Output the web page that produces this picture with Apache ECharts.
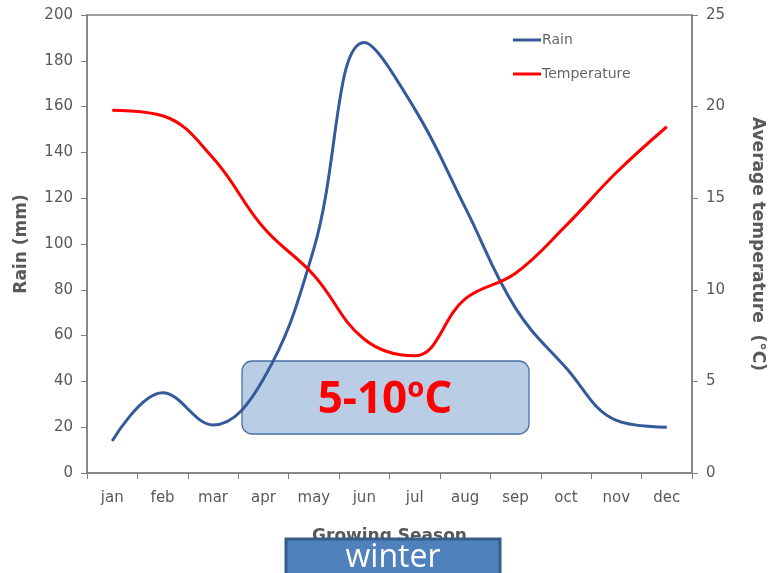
<!DOCTYPE html>
<html>
<head>
<meta charset="utf-8">
<script src="https://cdn.jsdelivr.net/npm/echarts@6/dist/echarts.min.js"></script>
<style>html,body{margin:0;padding:0;background:#fff;overflow:hidden;}#c{width:774px;height:573px;}</style>
</head>
<body>
<div id="c"></div>
<script>
var months = ['jan','feb','mar','apr','may','jun','jul','aug','sep','oct','nov','dec'];
var rain = [14, 35, 21, 41, 98, 188, 159, 116, 72, 46, 23, 20];
var temperature = [19.8, 19.5, 17.2, 13.4, 10.8, 7.3, 6.4, 9.5, 10.9, 13.5, 16.4, 18.9];
var rainTicks = {min: 0, max: 200, interval: 20};
var tempTicks = {min: 0, max: 25, interval: 5};

var chart = echarts.init(document.getElementById('c'));
var labelColor = '#595959';
var axisColor = '#808080';
chart.setOption({
  animation: false,
  backgroundColor: '#fff',
  grid: {left: 87, right: 78, top: 15, bottom: 100, show: true, borderColor: axisColor, borderWidth: 1.5, backgroundColor: 'transparent'},
  legend: {
    orient: 'vertical', left: 508, top: 28, itemGap: 20,
    itemWidth: 28, itemHeight: 3, itemStyle: {borderWidth: 0},
    icon: 'rect',
    textStyle: {color: '#666', fontFamily: 'DejaVu Sans', fontSize: 14, padding: [0,0,0,-4]},
    data: ['Rain', 'Temperature']
  },
  xAxis: {
    type: 'category', data: months, boundaryGap: true,
    name: 'Growing Season', nameLocation: 'middle', nameGap: 55,
    nameTextStyle: {color: labelColor, fontWeight: 'bold', fontSize: 17, fontFamily: 'DejaVu Sans'},
    axisLine: {lineStyle: {color: axisColor, width: 1.5}},
    axisTick: {show: true, length: 6, alignWithLabel: false, lineStyle: {color: axisColor}},
    axisLabel: {color: labelColor, fontSize: 15, fontFamily: 'DejaVu Sans', margin: 18},
    splitLine: {show: false}
  },
  yAxis: [{
    type: 'value', min: rainTicks.min, max: rainTicks.max, interval: rainTicks.interval,
    name: 'Rain (mm)', nameLocation: 'middle', nameGap: 57, nameRotate: 90,
    nameTextStyle: {color: labelColor, fontWeight: 'bold', fontSize: 17, fontFamily: 'DejaVu Sans'},
    axisLine: {show: true, lineStyle: {color: axisColor, width: 1.5}},
    axisTick: {show: true, length: 6, lineStyle: {color: axisColor}},
    axisLabel: {color: labelColor, fontSize: 15, fontFamily: 'DejaVu Sans', margin: 14},
    splitLine: {show: false}
  }, {
    type: 'value', min: tempTicks.min, max: tempTicks.max, interval: tempTicks.interval,
    position: 'right',
    name: 'Average temperature  (\u00B0C)', nameLocation: 'middle', nameGap: 57, nameRotate: -90,
    nameTextStyle: {color: labelColor, fontWeight: 'bold', fontSize: 17, fontFamily: 'DejaVu Sans'},
    axisLine: {show: true, lineStyle: {color: axisColor, width: 1.5}},
    axisTick: {show: true, length: 6, lineStyle: {color: axisColor}},
    axisLabel: {color: labelColor, fontSize: 15, fontFamily: 'DejaVu Sans', margin: 14},
    splitLine: {show: false}
  }],
  series: [{
    name: 'Rain', type: 'line', yAxisIndex: 0, data: rain, smooth: 0.4,
    symbol: 'none', lineStyle: {color: '#345a99', width: 3}, itemStyle: {color: '#345a99'}, z: 5
  }, {
    name: 'Temperature', type: 'line', yAxisIndex: 1, data: temperature, smooth: 0.4,
    symbol: 'none', lineStyle: {color: '#ff0000', width: 3}, itemStyle: {color: '#ff0000'}, z: 5
  }],
  graphic: [{
    type: 'rect', z: 1, shape: {x: 242, y: 361, width: 287, height: 73, r: 10},
    style: {fill: '#b9cde5', stroke: '#4a6fa5', lineWidth: 1.3}
  }, {
    type: 'text', z: 6, x: 385, y: 400,
    style: {text: '5-10\u00BAC', fill: '#ff0000', font: 'bold 44px "Open Sans"', align: 'center', verticalAlign: 'middle'}
  }, {
    type: 'rect', z: 10, shape: {x: 286, y: 539, width: 214, height: 40},
    style: {fill: '#4f81bd', stroke: '#385d8a', lineWidth: 3}
  }, {
    type: 'text', z: 11, x: 393, y: 558,
    style: {text: 'winter', fill: '#ffffff', font: '32px "Open Sans"', align: 'center', verticalAlign: 'middle'}
  }]
});
</script>
</body>
</html>
